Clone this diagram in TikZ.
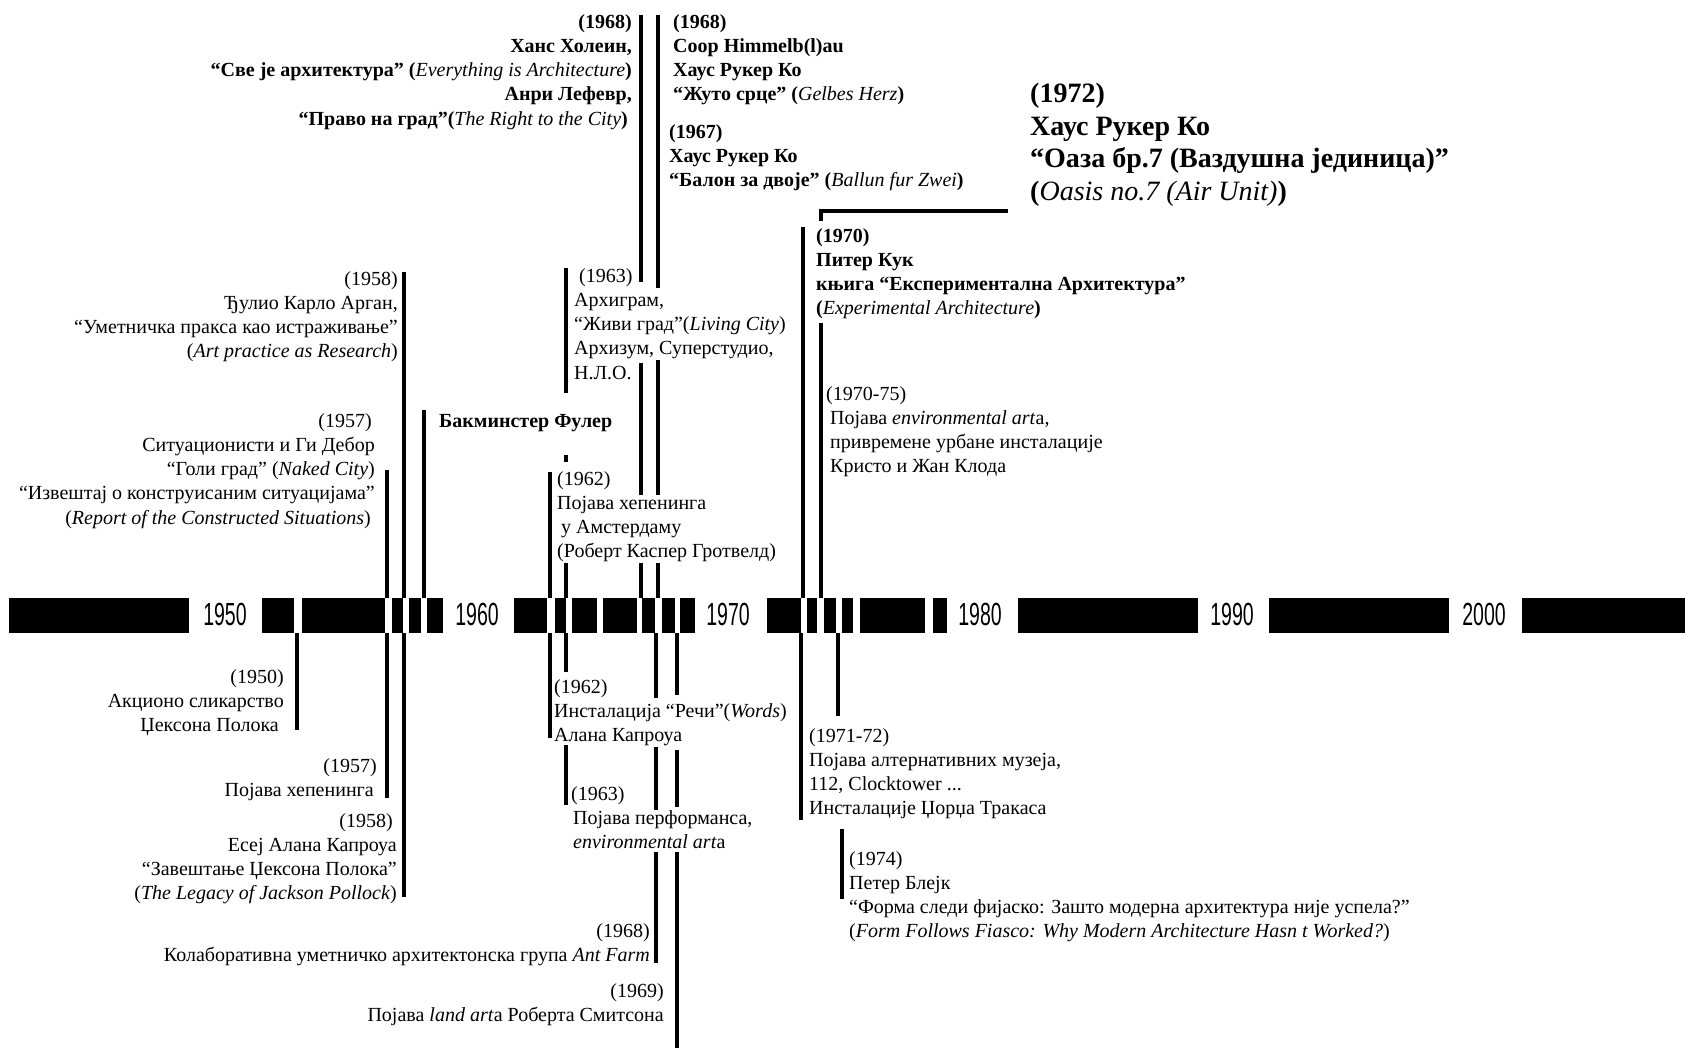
\documentclass[tikz,border=0pt]{standalone}
\usepackage{fontspec}
\setmainfont{Liberation Serif}
\newfontfamily\barfont[FakeStretch=0.61]{Liberation Sans}
\newcommand{\nb}[1]{{\mdseries\itshape #1}}
\begin{document}
\begin{tikzpicture}[x=1pt,y=-1pt,
  vline/.style={line width=4.2pt},
  lt/.style={inner sep=0pt, anchor=north west, align=left, font=\fontsize{20}{24.3}\selectfont},
  rt/.style={inner sep=0pt, anchor=north east, align=right, font=\fontsize{20}{24.3}\selectfont},
  ltb/.style={lt, font=\fontsize{20}{24.3}\selectfont\bfseries},
  rtb/.style={rt, font=\fontsize{20}{24.3}\selectfont\bfseries},
  big/.style={inner sep=0pt, anchor=north west, align=left, font=\fontsize{28}{32.5}\selectfont\bfseries},
  yr/.style={inner sep=0pt, font=\barfont\fontsize{32}{32}\selectfont}]
\useasboundingbox (0,0) rectangle (1685,1048);
% timeline bar
\foreach \a/\b in {9/189, 262/294, 302/385, 392/403, 409/421, 427/443,
  514/547, 555/566, 572/597, 603/637, 642/655, 662/675, 680/695,
  767/801, 807/817, 824/836, 842/853, 860/925, 933/947,
  1018/1198, 1269/1449, 1522/1685}
  \fill[black] (\a,598) rectangle (\b,633);
\node[yr] (y1950) at (225,614) {1950};
\node[yr] (y1960) at (477,614) {1960};
\node[yr] (y1970) at (728,614) {1970};
\node[yr] (y1980) at (980,614) {1980};
\node[yr] (y1990) at (1232,614) {1990};
\node[yr] (y2000) at (1484,614) {2000};
% vertical lines above the bar
\draw[vline] (387,470) -- (387,598);
\draw[vline] (404,272) -- (404,598);
\draw[vline] (424,410) -- (424,598);
\draw[vline] (550,472) -- (550,598);
\draw[vline] (566,268) -- (566,393);
\draw[vline] (566,455) -- (566,462);
\draw[vline] (566,563) -- (566,598);
\draw[vline] (641,15) -- (641,282);
\draw[vline] (641,363) -- (641,495);
\draw[vline] (641,563) -- (641,598);
\draw[vline] (658,15) -- (658,288);
\draw[vline] (658,360) -- (658,495);
\draw[vline] (658,563) -- (658,598);
\draw[vline] (803,227) -- (803,598);
\draw[vline] (821,323) -- (821,598);
\draw[vline] (1008,211) -- (821,211) -- (821,221);
% vertical lines below the bar
\draw[vline] (297,633) -- (297,730);
\draw[vline] (387,633) -- (387,798);
\draw[vline] (404,633) -- (404,897);
\draw[vline] (550,633) -- (550,738);
\draw[vline] (566,633) -- (566,672);
\draw[vline] (566,745) -- (566,805);
\draw[vline] (656,633) -- (656,698);
\draw[vline] (656,747) -- (656,810);
\draw[vline] (656,852) -- (656,963);
\draw[vline] (677,633) -- (677,695);
\draw[vline] (677,750) -- (677,807);
\draw[vline] (677,852) -- (677,1048);
\draw[vline] (801,633) -- (801,820);
\draw[vline] (838,633) -- (838,716);
\draw[vline] (842,829) -- (842,899);
% texts above
\node[rtb] (t1) at (632,14) {(1968)\\Ханс Холеин,\\“Све је архитектура” (\nb{Everything is Architecture})\\Анри Лефевр,\hspace*{5pt}\\“Право на град”(\nb{The Right to the City})\hspace*{4pt}};
\node[ltb] (t2) at (673,14) {(1968)\\Coop Himmelb(l)au\\Хаус Рукер Ко\\“Жуто срце” (\nb{Gelbes Herz})};
\node[ltb] (t3) at (669,124) {(1967)\\Хаус Рукер Ко\\“Балон за двоје” (\nb{Ballun fur Zwei})};
\node[big] (t4) at (1030,83) {(1972)\\Хаус Рукер Ко\\“Оаза бр.7 (Ваздушна јединица)”\\(\nb{Oasis no.7 (Air Unit)})};
\node[ltb] (t5) at (816,228) {(1970)\\Питер Кук\\књига “Експериментална Архитектура”\\(\nb{Experimental Architecture})};
\node[rt] (t6) at (398,271) {(1958)\\Ђулио Карло Арган,\\“Уметничка пракса као истраживање”\\(\textit{Art practice as Research})};
\node[rt] (t7) at (375,413) {(1957)\hspace*{3pt}\\Ситуационисти и Ги Дебор\hspace*{8pt}\\“Голи град” (\textit{Naked City})\\“Извештај о конструисаним ситуацијама”\\(\textit{Report of the Constructed Situations})\hspace*{4pt}};
\node[ltb] (t8) at (439,414) {Бакминстер Фулер};
\node[lt] (t9) at (574,268) {\hspace*{5pt}(1963)\\Архиграм,\\“Живи град”(\textit{Living City})\\Архизум, Суперстудио,\\Н.Л.О.};
\node[lt] (t10) at (557,471) {(1962)\\Појава хепенинга\\\hspace*{4pt}у Амстердаму\\(Роберт Каспер Гротвелд)};
\node[lt] (t11) at (826,386) {(1970-75)\\\hspace*{4pt}Појава \textit{environmental art}а,\\\hspace*{4pt}привремене урбане инсталације\\\hspace*{4pt}Кристо и Жан Клода};
% texts below
\node[rt] (b1) at (284,669) {(1950)\\Акционо сликарство\hspace*{3pt}\\Џексона Полока\hspace*{5pt}};
\node[rt] (b2) at (377,758) {(1957)\\Појава хепенинга\hspace*{3pt}};
\node[rt] (b3) at (397,813) {(1958)\hspace*{4pt}\\Есеј Алана Капроуа\hspace*{6pt}\\“Завештање Џексона Полока”\hspace*{3pt}\\(\textit{The Legacy of Jackson Pollock})};
\node[lt] (b4) at (554,679) {(1962)\\Инсталација “Речи”(\textit{Words})\\Алана Капроуа};
\node[lt] (b5) at (571,786) {(1963)\\\hspace*{2pt}Појава перформанса,\\\hspace*{2pt}\textit{environmental art}а};
\node[rt] (b6) at (650,923) {(1968)\\Колаборативна уметничко архитектонска група \textit{Ant Farm}};
\node[rt] (b7) at (664,983) {(1969)\\Појава \textit{land art}а Роберта Смитсона};
\node[lt] (b8) at (809,728) {(1971-72)\\Појава алтернативних музеја,\\112, Clocktower ...\\Инсталације Џорџа Тракаса};
\node[lt] (b9) at (849,851) {(1974)\\Петер Блејк\\“Форма следи фијаско: Зашто модерна архитектура није успела?”\\(\textit{Form Follows Fiasco: Why Modern Architecture Hasn t Worked?})};
\end{tikzpicture}
\end{document}
